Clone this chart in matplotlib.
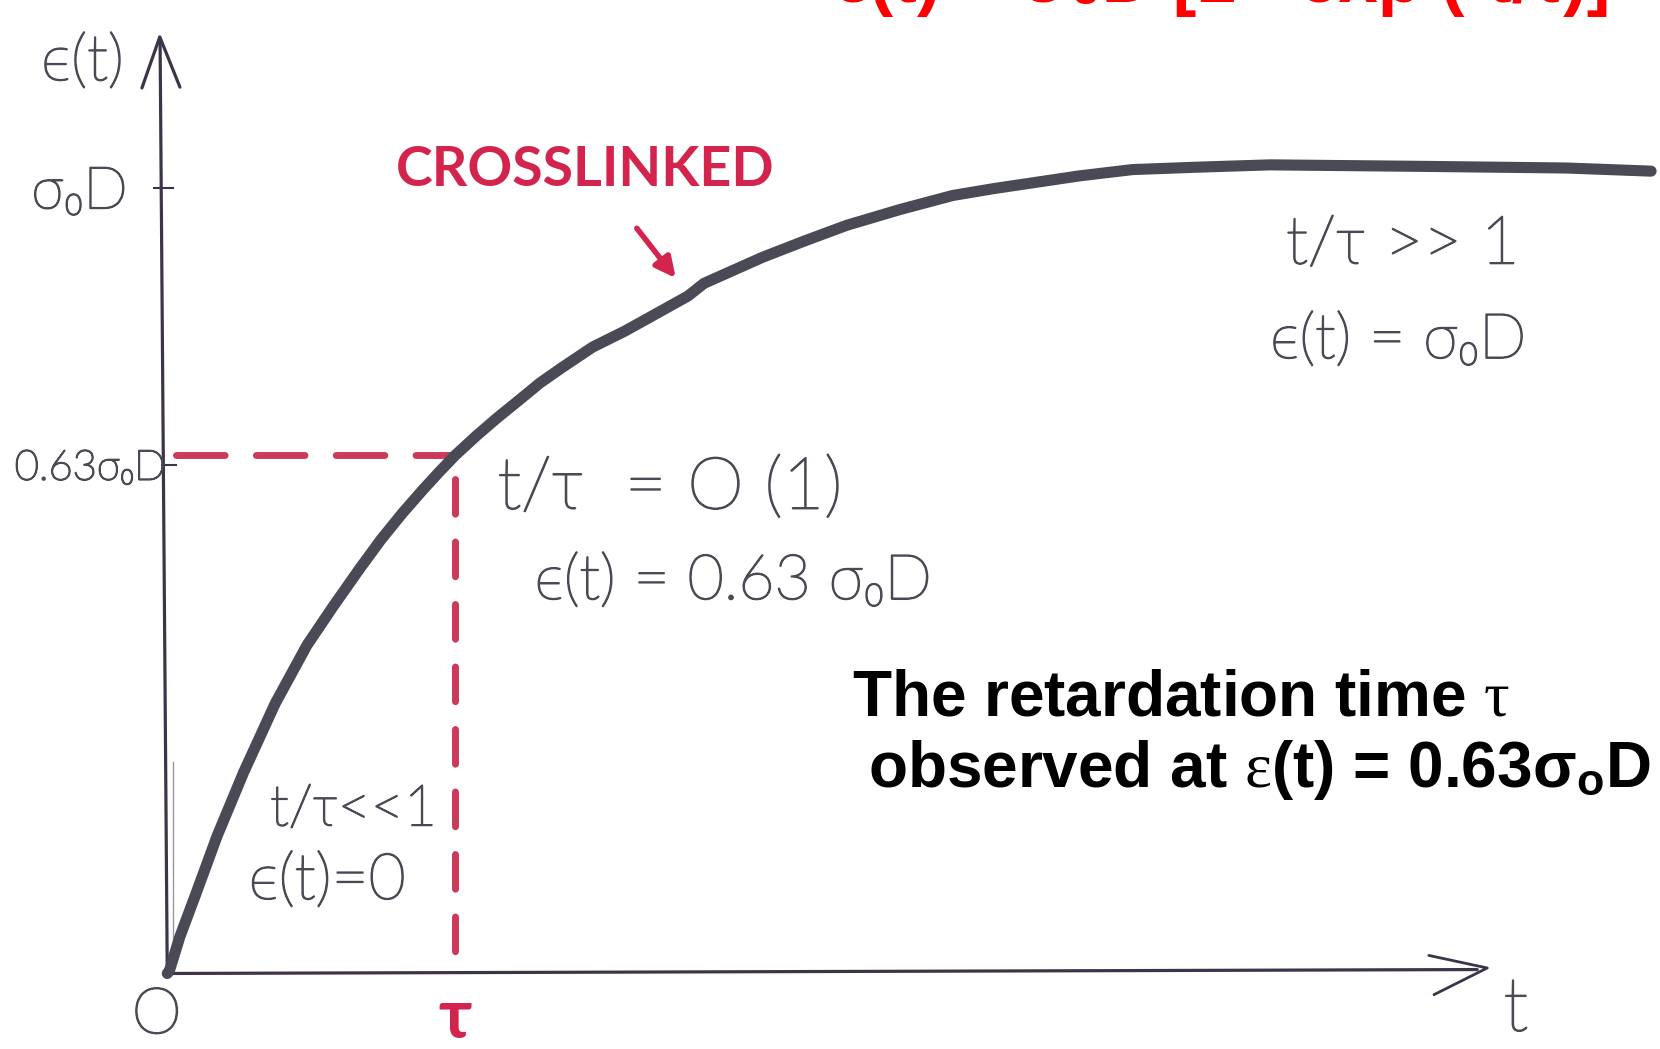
import numpy as np
import matplotlib.pyplot as plt
import matplotlib.patheffects as pe

plt.rcParams['mathtext.fontset'] = 'custom'
plt.rcParams['mathtext.rm'] = 'Liberation Serif'
plt.rcParams['mathtext.it'] = 'Liberation Serif'
plt.rcParams['mathtext.bf'] = 'Liberation Sans:bold'

# curve, in units of t/tau and eps/(sigma0 D)
t_tau = [0.0, 0.007, 0.044, 0.099, 0.173, 0.265, 0.375, 0.485, 0.577, 0.669,
         0.743, 0.816, 0.890, 0.945, 1.0, 1.074, 1.147, 1.221, 1.294, 1.368,
         1.478, 1.588, 1.662, 1.809, 1.864, 2.066, 2.213, 2.360, 2.544, 2.728,
         2.875, 3.022, 3.169, 3.353, 3.574, 3.831, 4.382, 4.860, 5.154]
strain = [0.0, 0.003, 0.047, 0.101, 0.175, 0.256, 0.344, 0.418, 0.468, 0.516,
          0.553, 0.586, 0.617, 0.639, 0.660, 0.685, 0.708, 0.730, 0.752, 0.771,
          0.798, 0.818, 0.833, 0.863, 0.879, 0.912, 0.933, 0.953, 0.973, 0.991,
          1.0, 1.008, 1.016, 1.024, 1.027, 1.030, 1.028, 1.026, 1.022]

tau_mark = 1.0        # t = tau
level_63 = 0.66       # drawn height of the 0.63 sigma0 D line
level_full = 1.0      # sigma0 D

hand = ['Lato', 'DejaVu Sans']
bold = ['Liberation Sans', 'DejaVu Sans']
pen = '#4a4a55'
ink_red = '#d3244d'
dash_red = '#cc3a5a'
thick = [pe.withStroke(linewidth=1.2, foreground=pen)]

fig = plt.figure(figsize=(16.6, 10.49), dpi=100)
ax = fig.add_axes([0, 0, 1, 1])
ax.set_xlim(-0.581, 5.185)
ax.set_ylim(-0.0962, 1.240)
ax.axis('off')

# axes drawn by hand
axis_col = '#3e3447'
ax.plot([0, -0.025], [0, 1.19], color=axis_col, lw=2.3, solid_capstyle='round')
ax.plot([-0.088, -0.026, 0.044], [1.128, 1.193, 1.129], color=axis_col, lw=2.3,
        solid_capstyle='round', solid_joinstyle='round')
ax.plot([0, 4.55], [0, 0.005], color=axis_col, lw=2.3, solid_capstyle='round')
ax.plot([4.382, 4.585, 4.40], [0.023, 0.007, -0.027], color=axis_col, lw=2.0,
        solid_capstyle='round', solid_joinstyle='round')
ax.plot([0.02, 0.02], [0.012, 0.27], color='#9a96a0', lw=1.0)

# little ticks on the y axis
ax.plot([-0.045, 0.02], [level_full, level_full], color=axis_col, lw=1.5)
ax.plot([-0.02, 0.03], [level_63 - 0.012, level_63 - 0.012], color=axis_col, lw=1.5)

# dashed guides
ax.plot([0.03, tau_mark], [level_63, level_63], color=dash_red, lw=5,
        dashes=(7, 4.5), dash_capstyle='round')
ax.plot([tau_mark, tau_mark], [level_63 - 0.03, 0.0], color=dash_red, lw=5,
        dashes=(5.0, 4.0), dash_capstyle='round')

# the creep curve
ax.plot(t_tau, strain, color='#4a4a56', lw=8, solid_capstyle='round',
        solid_joinstyle='round')

# hand-written labels
def scribble(x, y, s, size, ha='left'):
    ax.text(x, y, s, family=hand, weight='light', color=pen, fontsize=size,
            ha=ha, va='center', path_effects=thick)

scribble(-0.294, 1.160, 'ϵ(t)', 46, 'center')
scribble(-0.305, 0.995, 'σ₀D', 42, 'center')
scribble(-0.268, 0.643, '0.63σ₀D', 30, 'center')
scribble(-0.037, -0.054, 'O', 46, 'center')
scribble(4.684, -0.047, 't', 54, 'center')
scribble(1.147, 0.617, 't/τ  = O (1)', 52)
scribble(1.276, 0.499, 'ϵ(t) = 0.63 σ₀D', 45)
scribble(3.886, 0.927, 't/τ >> 1', 48)
scribble(3.831, 0.806, 'ϵ(t) = σ₀D', 45)
scribble(0.357, 0.209, 't/τ<<1', 41)
scribble(0.283, 0.117, 'ϵ(t)=0', 46)

ax.text(tau_mark, -0.057, 'τ', family=hand, weight='bold', color=ink_red, fontsize=50,
        ha='center', va='center')
ax.text(1.452, 1.024, 'CROSSLINKED', family=hand, weight='bold', color=ink_red,
        fontsize=40, ha='center', va='center')
ax.annotate('', xy=(1.772, 0.883), xytext=(1.625, 0.952),
            arrowprops=dict(arrowstyle='-|>', color=ink_red, lw=4,
                            mutation_scale=30))

ax.text(2.379, 0.350, r'The retardation time $\tau$', family=bold, weight='bold',
        color='black', fontsize=46, ha='left', va='center')
ax.text(2.434, 0.259, r'observed at $\varepsilon$(t) = 0.63σ$_\mathbf{o}$D', family=bold,
        weight='bold', color='black', fontsize=46, ha='left', va='center')

# formula at the top, cut off by the page edge
fig.text(0.5036, 0.998, 'ε(t) = σ₀D [1 - exp (-t/τ)]',
         family=bold, weight='bold', color='#ff0000',
         fontsize=51, ha='left', va='baseline')

fig.savefig('out.png', dpi=100, facecolor='white')
